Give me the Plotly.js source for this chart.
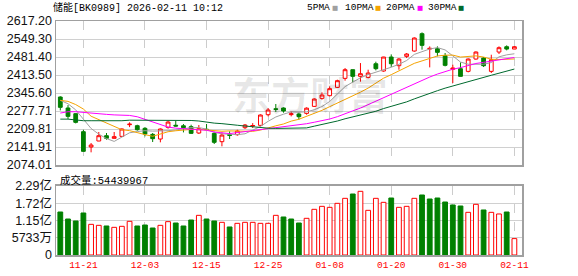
<!DOCTYPE html>
<html>
<head>
<meta charset="utf-8">
<script src="https://cdn.plot.ly/plotly-3.0.1.min.js"></script>
<style>html,body{margin:0;padding:0;background:#fff;}#chart{width:578px;height:276px;}</style>
</head>
<body>
<div id="chart"></div>
<script>
const dates = ['11-18','11-19','11-20','11-21','11-24','11-25','11-26','11-27','11-28','12-01','12-02','12-03','12-04','12-05','12-08','12-09','12-10','12-11','12-12','12-15','12-16','12-17','12-18','12-19','12-22','12-23','12-24','12-25','12-26','12-29','12-30','12-31','01-05','01-06','01-07','01-08','01-09','01-12','01-13','01-14','01-15','01-16','01-19','01-20','01-21','01-22','01-23','01-26','01-27','01-28','01-29','01-30','02-02','02-03','02-04','02-05','02-06','02-09','02-10','02-11'];

const openP = [2330.5,2289,2267.6,2199.7,2141.9,2164.5,2184.6,2174.6,2182,2226,2222.3,2212.3,2189.6,2172,2216,2224,2222,2218.6,2194.7,2209,2193.4,2162,2189.6,2188.4,2214.8,2221,2223.6,2263.8,2286,2289,2264,2266.3,2268.8,2295.2,2325.4,2335.5,2366.9,2400.8,2433.5,2408.4,2404.6,2456,2428.5,2481.3,2448.6,2483.8,2503.9,2569.3,2511.4,2512.7,2486.3,2434.8,2437.3,2427.2,2473.7,2477.5,2427.2,2500.1,2520.2,2511.4];
const highP = [2333,2300,2269,2207,2157,2198.5,2194.7,2198.5,2212,2235,2226,2217,2194.7,2212,2241,2241,2228.6,2226,2224.8,2228.6,2199.7,2197,2201,2207,2228.6,2232,2265,2289,2304,2291.5,2276,2271.4,2291.5,2325.4,2348,2370.7,2395.8,2439.8,2434,2458.6,2433.5,2463.7,2482,2491.3,2477.5,2496.4,2555.4,2574.3,2521.5,2521.5,2496.4,2452.4,2461.2,2476,2502.6,2481.3,2490,2521.5,2525.3,2522.8];
const lowP = [2280,2247.5,2231,2125,2121.8,2164,2169.5,2174,2180,2217,2203.5,2182,2160.7,2159.5,2211,2219,2197,2191,2191,2206,2153.2,2144.4,2172,2184.6,2209.8,2213.6,2219.8,2257.5,2274,2271.4,2257.5,2245,2263.8,2292.7,2320.4,2333,2364.4,2392,2385.7,2388.3,2400.8,2431,2426,2443.6,2433.5,2477.5,2501.4,2509,2442.3,2483.8,2446,2383.2,2408,2423.5,2471.2,2443.6,2421,2492.6,2506.4,2511];
const closeP = [2291.5,2257.5,2234.9,2125.5,2149.4,2184.6,2174.6,2180.9,2209.8,2228,2207.2,2191,2173.3,2209.8,2236,2221,2214.8,2193.4,2211,2207.5,2159.5,2187,2185.6,2202.2,2224.8,2223,2262.6,2281.4,2284,2277.7,2267,2256.3,2288.4,2322.9,2338,2361.9,2392,2433.5,2408.4,2418.4,2421,2437.3,2481.3,2456,2473.7,2492.6,2553,2525.3,2514,2498.9,2449.9,2439.8,2408.4,2473.7,2500.1,2448.6,2471.2,2516.5,2511.4,2520.2];

const ma5 = [2318,2305,2282,2245,2211.8,2190.4,2173.8,2163,2179.9,2195.6,2200.1,2203.4,2201.9,2201.9,2203.5,2206.2,2211,2215,2215.2,2209.5,2197.2,2191.7,2190.1,2188.4,2191.8,2204.5,2219.6,2238.8,2255.2,2265.7,2274.5,2273.3,2274.7,2282.5,2294.5,2313.5,2340.6,2369.7,2386.8,2402.8,2414.7,2423.7,2433.3,2442.8,2453.9,2468.2,2491.3,2500.1,2511.7,2516.8,2508.2,2485.6,2462.2,2454.1,2454.4,2454.1,2460.4,2482,2489.6,2493.6];
const ma10 = [2318,2314,2302,2285,2258,2245,2232,2217,2207,2203.7,2195.2,2188.6,2182.4,2190.9,2199.5,2203.2,2207.2,2208.4,2208.6,2206.5,2201.7,2201.3,2202.6,2201.8,2200.7,2200.9,2205.7,2214.5,2221.8,2228.8,2239.5,2246.5,2256.7,2268.8,2280.1,2294,2307,2322.2,2334.6,2348.7,2364.1,2382.2,2401.5,2414.8,2428.4,2441.4,2457.5,2466.7,2477.3,2485.3,2488.2,2488.5,2481.2,2482.9,2485.6,2481.2,2473,2472.1,2471.9,2474];
const ma20 = [2270,2275,2275,2272,2270,2268,2265,2263,2261,2261,2256,2246,2234,2224,2217,2213,2211,2209,2207,2205.1,2198.5,2195,2192.5,2196.3,2200.1,2202,2206.4,2211.4,2215.2,2217.6,2220.6,2223.9,2229.7,2235.3,2240.4,2247.5,2256.3,2268.3,2278.2,2288.7,2301.8,2314.3,2329.1,2341.8,2354.2,2367.7,2382.2,2394.4,2405.9,2417,2426.1,2435.3,2441.3,2448.9,2457,2461.3,2465.3,2469.4,2474.6,2479.6];
const ma30 = [2247,2247,2244,2241,2241,2241,2240,2240,2241,2243,2243,2243,2243,2243,2243,2243,2243,2242,2240,2235,2232,2230,2228,2224,2221,2218,2215,2213,2212,2213,2212.2,2212.1,2213.9,2220.5,2226.8,2232.7,2239.9,2248.4,2255,2261.3,2268.4,2276.7,2286.9,2295.1,2303.1,2312.1,2323.4,2334.4,2344.5,2354.3,2363.9,2372.4,2379.8,2388.8,2398,2405.5,2412.5,2420.3,2427.9,2436];

const volume = [1.429e8,1.196e8,1.130e8,1.396e8,1.019e8,0.986e8,0.964e8,0.919e8,0.953e8,1.119e8,0.964e8,0.997e8,0.897e8,0.986e8,1.108e8,1.063e8,0.964e8,1.163e8,1.318e8,1.196e8,1.130e8,1.086e8,0.931e8,1.052e8,1.086e8,1.086e8,1.052e8,1.052e8,1.318e8,1.263e8,1.196e8,1.063e8,1.219e8,1.518e8,1.617e8,1.584e8,1.717e8,1.883e8,2.027e8,2.116e8,1.484e8,1.883e8,1.750e8,1.894e8,1.584e8,1.617e8,1.883e8,1.994e8,1.861e8,1.894e8,1.761e8,1.662e8,1.628e8,1.418e8,1.684e8,1.496e8,1.418e8,1.363e8,1.429e8,54439967];
// 1 = up day (red, hollow), 0 = down day (green, filled)
const volUp = [0,0,0,0,1,1,0,1,1,1,0,0,0,1,1,0,0,0,1,0,0,1,0,1,1,1,1,1,1,0,0,0,1,1,1,1,1,1,0,1,1,1,1,0,1,1,1,0,0,0,0,0,0,1,1,0,1,1,0,1];

const priceTicks = [2074.01,2141.91,2209.81,2277.71,2345.60,2413.50,2481.40,2549.30,2617.20];
const priceTickText = ['2074.01','2141.91','2209.81','2277.71','2345.60','2413.50','2481.40','2549.30','2617.20'];
const volTicks = [0,57330000,114660000,171990000,229320000];
const volTickText = ['0','5733万','1.15亿','1.72亿','2.29亿'];
const dateTicks = ['11-21','12-03','12-15','12-25','01-08','01-20','01-30','02-11'];

const legendNames = ['5PMA','10PMA','20PMA','30PMA'];
const legendColors = ['#a0a0a0','#f5a300','#ff00ff','#006a2e'];

const RED = '#ff0000', GREEN = '#008000';
const lineFont = 'Liberation Sans, Arial, Noto Sans CJK SC, sans-serif';
const monoFont = 'Liberation Mono, DejaVu Sans Mono, Noto Sans CJK SC, monospace';

const traces = [
  {
    type: 'candlestick', x: dates, open: openP, high: highP, low: lowP, close: closeP,
    xaxis: 'x', yaxis: 'y', whiskerwidth: 0,
    increasing: {line: {color: RED, width: 1}, fillcolor: '#ffffff'},
    decreasing: {line: {color: GREEN, width: 1}, fillcolor: GREEN},
    hoverinfo: 'skip'
  },
  {type: 'scatter', mode: 'lines', x: dates, y: ma5, xaxis: 'x', yaxis: 'y', line: {color: legendColors[0], width: 1}, hoverinfo: 'skip'},
  {type: 'scatter', mode: 'lines', x: dates, y: ma10, xaxis: 'x', yaxis: 'y', line: {color: legendColors[1], width: 1}, hoverinfo: 'skip'},
  {type: 'scatter', mode: 'lines', x: dates, y: ma20, xaxis: 'x', yaxis: 'y', line: {color: legendColors[2], width: 1}, hoverinfo: 'skip'},
  {type: 'scatter', mode: 'lines', x: dates, y: ma30, xaxis: 'x', yaxis: 'y', line: {color: legendColors[3], width: 1}, hoverinfo: 'skip'},
  {
    type: 'bar', x: dates, y: volume, xaxis: 'x2', yaxis: 'y2', width: 0.62,
    marker: {
      color: volUp.map(u => u ? '#ffffff' : GREEN),
      line: {color: volUp.map(u => u ? RED : GREEN), width: 1}
    },
    hoverinfo: 'skip'
  }
];

const xCommon = {
  type: 'category', range: [-0.56, 59.99], tickvals: dateTicks, ticktext: dateTicks,
  showgrid: true, gridcolor: '#cccccc', griddash: 'dash', gridwidth: 1,
  showline: true, mirror: true, linecolor: '#a0a0a0', linewidth: 1.5,
  zeroline: false, ticks: '', fixedrange: true
};

// legend item pixel positions (text start, square centre) converted to paper fractions
const legendTextX = [306, 344, 385, 427];
const legendSqX = [334.5, 378, 419.5, 461];
const toPaperX = px => (px - 56) / 466;
const headerY = (255 - 8) / 234;

const annotations = [
  {xref: 'paper', yref: 'paper', x: -0.0107, y: headerY, xanchor: 'left', yanchor: 'middle', showarrow: false,
   text: '储能[BK0989] 2026-02-11 10:12', font: {family: monoFont, size: 10, color: '#000000'}},
  {xref: 'paper', yref: 'paper', x: 0.0043, y: 0.3205, xanchor: 'left', yanchor: 'middle', showarrow: false,
   text: '成交量:54439967', font: {family: monoFont, size: 10.5, color: '#000000'}},
  {xref: 'paper', yref: 'paper', x: 0.545, y: 0.692, xanchor: 'center', yanchor: 'middle', showarrow: false,
   text: '东方财富', font: {family: 'Noto Sans CJK SC, sans-serif', size: 39, color: 'rgba(0,0,0,0.09)', weight: 700}}
];
legendNames.forEach((name, i) => {
  annotations.push({xref: 'paper', yref: 'paper', x: toPaperX(legendTextX[i]), y: headerY, xanchor: 'left', yanchor: 'middle',
    showarrow: false, borderpad: 0, text: name, font: {family: monoFont, size: 9.5, color: '#000000'}});
  annotations.push({xref: 'paper', yref: 'paper', x: toPaperX(legendSqX[i]), y: headerY, xanchor: 'center', yanchor: 'middle',
    showarrow: false, borderpad: 0, text: '■', font: {family: 'DejaVu Sans, sans-serif', size: 6.5, color: legendColors[i]}});
});

const layout = {
  width: 578, height: 276,
  margin: {l: 56, r: 56, t: 21, b: 21, pad: 0},
  paper_bgcolor: '#ffffff', plot_bgcolor: '#ffffff',
  showlegend: false,
  xaxis: Object.assign({}, xCommon, {anchor: 'y', showticklabels: false, rangeslider: {visible: false}}),
  xaxis2: Object.assign({}, xCommon, {anchor: 'y2', matches: 'x', showticklabels: true,
    tickfont: {family: monoFont, size: 9.5, color: RED}}),
  yaxis: {
    domain: [0.3846, 1], range: [2074.01, 2617.20], tickvals: priceTicks, ticktext: priceTickText,
    showgrid: true, gridcolor: '#d0d0d0', gridwidth: 1, zeroline: false,
    showline: true, mirror: true, linecolor: '#a0a0a0', linewidth: 1.5, ticks: '',
    tickfont: {family: lineFont, size: 12.5, color: '#111111'}, fixedrange: true
  },
  yaxis2: {
    domain: [0, 0.2949], range: [0, 229320000], tickvals: volTicks, ticktext: volTickText,
    showgrid: true, gridcolor: '#d0d0d0', gridwidth: 1, zeroline: false,
    showline: true, mirror: true, linecolor: '#a0a0a0', linewidth: 1.5, ticks: '',
    tickfont: {family: lineFont, size: 12.5, color: '#111111'}, fixedrange: true
  },
  annotations: annotations
};

Plotly.newPlot('chart', traces, layout, {staticPlot: true, displayModeBar: false});
</script>
</body>
</html>
